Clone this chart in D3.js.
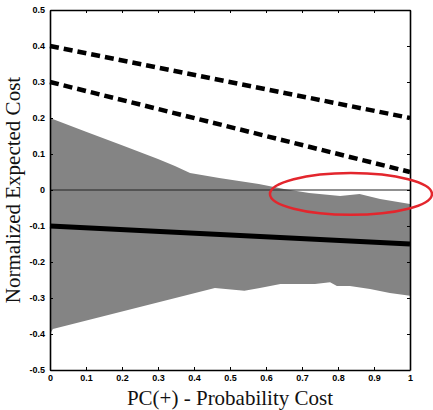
<!DOCTYPE html>
<html>
<head>
<meta charset="utf-8">
<script src="https://cdn.jsdelivr.net/npm/d3@7"></script>
<style>
  html, body { margin: 0; padding: 0; background: #fff; }
  svg { display: block; }
</style>
</head>
<body>
<svg id="chart" width="433" height="410"></svg>
<script>
// ---- data ----
const xTicks = [0, 0.1, 0.2, 0.3, 0.4, 0.5, 0.6, 0.7, 0.8, 0.9, 1];
const xTickLabels = ["0", "0.1", "0.2", "0.3", "0.4", "0.5", "0.6", "0.7", "0.8", "0.9", "1"];
const yTicks = [0.5, 0.4, 0.3, 0.2, 0.1, 0, -0.1, -0.2, -0.3, -0.4, -0.5];
const yTickLabels = ["0.5", "0.4", "0.3", "0.2", "0.1", "0", "-0.1", "-0.2", "-0.3", "-0.4", "-0.5"];

// gray band: upper and lower envelopes
const upperPC   = [0, 0.1, 0.2, 0.3, 0.347, 0.389, 0.47, 0.58, 0.65, 0.72, 0.806, 0.86, 0.917, 1];
const upperCost = [0.2, 0.162, 0.124, 0.086, 0.067, 0.047, 0.033, 0.017, 0.003, -0.008, -0.017, -0.011, -0.025, -0.039];
const lowerPC   = [0, 0.008, 0.458, 0.54, 0.583, 0.64, 0.736, 0.778, 0.797, 0.833, 0.889, 0.944, 1];
const lowerCost = [-0.4, -0.386, -0.272, -0.28, -0.272, -0.261, -0.261, -0.256, -0.267, -0.267, -0.275, -0.286, -0.294];

// straight cost lines
const linePC = [0, 1];
const dashTopCost = [0.4, 0.2];
const dashBottomCost = [0.3, 0.05];
const solidCost = [-0.1, -0.15];
const zeroCost = [0, 0];

// annotation ellipse (data units)
const ellipseCenter = [0.836, -0.011];
const ellipseRadius = [0.225, 0.058];

const xTitle = "PC(+) - Probability Cost";
const yTitle = "Normalized Expected Cost";

// ---- layout ----
const svg = d3.select("#chart");
const L = 50, R = 410, T = 10, B = 370;
const x = d3.scaleLinear().domain([0, 1]).range([L, R]);
const y = d3.scaleLinear().domain([-0.5, 0.5]).range([B, T]);

// gray area
const band = upperPC.map((p, i) => [p, upperCost[i]])
  .concat(lowerPC.map((p, i) => [p, lowerCost[i]]).reverse());
svg.append("path")
  .attr("d", d3.line().x(d => x(d[0])).y(d => y(d[1]))(band) + "Z")
  .attr("fill", "#848484")
  .attr("stroke", "none");

const line = d3.line().x(d => x(d[0])).y(d => y(d[1]));
function pts(cost) { return linePC.map((p, i) => [p, cost[i]]); }

// zero line
svg.append("path").attr("d", line(pts(zeroCost)))
  .attr("stroke", "#222").attr("stroke-width", 1.2).attr("fill", "none");

// dashed lines
[dashTopCost, dashBottomCost].forEach(c => {
  svg.append("path").attr("d", line(pts(c)))
    .attr("stroke", "#000").attr("stroke-width", 4.5)
    .attr("stroke-dasharray", "9,5").attr("fill", "none");
});

// solid line
svg.append("path").attr("d", line(pts(solidCost)))
  .attr("stroke", "#000").attr("stroke-width", 5).attr("fill", "none");

// axes (box with inward ticks)
const tickFont = "bold 9px 'Liberation Sans', Arial, sans-serif";
const axB = d3.axisBottom(x).tickValues(xTicks).tickFormat((d, i) => xTickLabels[i]).tickSizeInner(-3).tickSizeOuter(0).tickPadding(5);
const axT = d3.axisTop(x).tickValues(xTicks).tickFormat("").tickSizeInner(-3).tickSizeOuter(0);
const axL = d3.axisLeft(y).tickValues(yTicks).tickFormat((d, i) => yTickLabels[i]).tickSizeInner(-3).tickSizeOuter(0).tickPadding(5);
const axR = d3.axisRight(y).tickValues(yTicks).tickFormat("").tickSizeInner(-3).tickSizeOuter(0);

function styleAxis(g) {
  g.select(".domain").attr("stroke", "#000").attr("stroke-width", 1.6);
  g.selectAll(".tick line").attr("stroke", "#000").attr("stroke-width", 1);
  g.selectAll(".tick text").attr("fill", "#000").style("font", tickFont);
}
svg.append("g").attr("transform", `translate(0,${B})`).call(axB).call(styleAxis);
svg.append("g").attr("transform", `translate(0,${T})`).call(axT).call(styleAxis);
svg.append("g").attr("transform", `translate(${L},0)`).call(axL).call(styleAxis);
svg.append("g").attr("transform", `translate(${R},0)`).call(axR).call(styleAxis);

// ellipse annotation
svg.append("ellipse")
  .attr("cx", x(ellipseCenter[0])).attr("cy", y(ellipseCenter[1]))
  .attr("rx", x(ellipseRadius[0]) - x(0)).attr("ry", x(ellipseRadius[1]) - x(0))
  .attr("fill", "none").attr("stroke", "#e3262d").attr("stroke-width", 2.5);

// titles
const titleFont = "21px 'Liberation Serif', 'Times New Roman', serif";
svg.append("text").attr("x", (L + R) / 2).attr("y", 405)
  .attr("text-anchor", "middle").style("font", titleFont).attr("fill", "#111")
  .text(xTitle);
svg.append("text").attr("transform", `translate(20,${(T + B) / 2}) rotate(-90)`)
  .attr("text-anchor", "middle").style("font", titleFont).attr("fill", "#111")
  .text(yTitle);
</script>
</body>
</html>
